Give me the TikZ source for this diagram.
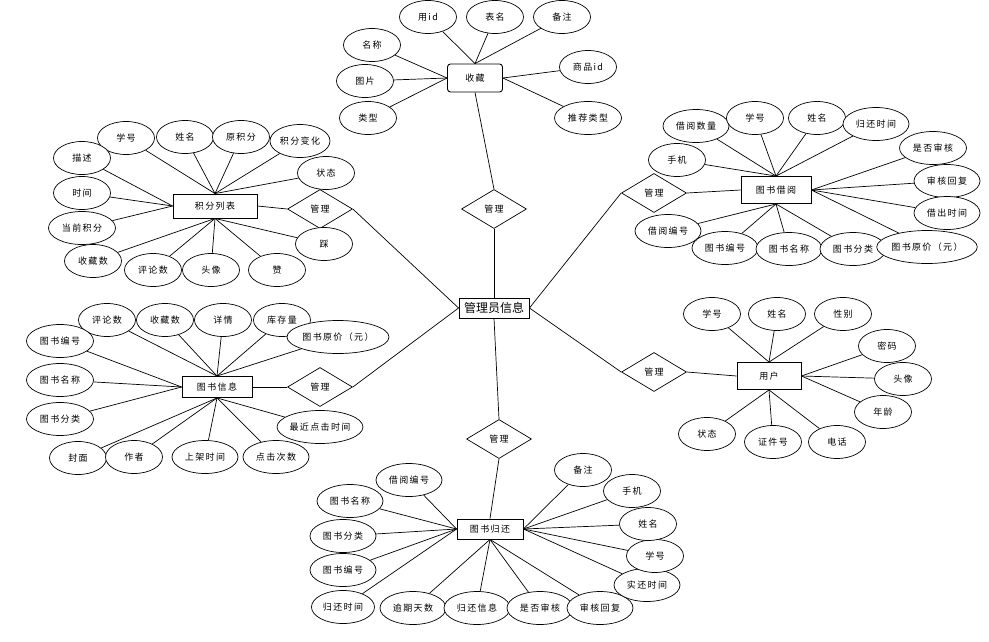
\documentclass[tikz,border=0pt]{standalone}
\usepackage{fontspec}
\setmainfont[LetterSpace=15]{Noto Sans CJK SC}
\newfontfamily\bigf{Noto Sans CJK SC}
\usetikzlibrary{shapes.geometric,backgrounds}
\tikzset{
  conn/.style={draw=black, line width=0.7pt},
  attr/.style={ellipse, draw=black, line width=0.7pt, fill=white, inner sep=0pt,
    minimum width=57pt, minimum height=33pt, font=\fontsize{9}{11}\selectfont},
  wide/.style={minimum width=66pt},
  ent/.style={rectangle, draw=black, line width=0.9pt, fill=white, inner sep=0pt,
    minimum width=70pt, minimum height=24pt, font=\fontsize{9}{11}\selectfont},
  rel/.style={diamond, draw=black, line width=0.7pt, fill=white, inner sep=0pt,
    minimum width=65pt, minimum height=39pt, font=\fontsize{9}{11}\selectfont},
  mainent/.style={rectangle, draw=black, line width=0.9pt, fill=white, inner sep=0pt,
    minimum width=70pt, minimum height=20pt, font=\bigf\fontsize{12}{14}\selectfont}
}
\begin{document}
\begin{tikzpicture}[x=1pt, y=-1pt]
\useasboundingbox (0,0) rectangle (989,641);

% ---------- center
\node[mainent] (admin) at (494,308) {管理员信息};

% ---------- 收藏
\node[ent, rounded corners=3pt, minimum width=55pt, minimum height=28pt] (sc) at (475,78) {收藏};
\node[rel] (d1) at (494,209) {管理};
\node[attr] (sc1) at (428,17) {用id};
\node[attr] (sc2) at (495,17) {表名};
\node[attr] (sc3) at (562,17) {备注};
\node[attr] (sc4) at (372,45) {名称};
\node[attr] (sc5) at (365,81) {图片};
\node[attr] (sc6) at (368,118) {类型};
\node[attr] (sc7) at (588,67) {商品id};
\node[attr, minimum width=67pt] (sc8) at (588,118) {推荐类型};

% ---------- 积分列表
\node[ent, minimum width=84pt, minimum height=24pt] (jf) at (215,206) {积分列表};
\node[rel] (d2) at (320,209) {管理};
\node[attr] (jf1) at (126,138) {学号};
\node[attr] (jf2) at (185,137) {姓名};
\node[attr] (jf3) at (241,137) {原积分};
\node[attr, minimum width=60pt] (jf4) at (300,141) {积分变化};
\node[attr] (jf5) at (326,173) {状态};
\node[attr] (jf6) at (82,158) {描述};
\node[attr] (jf7) at (82,193) {时间};
\node[attr, minimum width=67pt] (jf8) at (82,228) {当前积分};
\node[attr] (jf9) at (93,261) {收藏数};
\node[attr] (jf10) at (153,270) {评论数};
\node[attr] (jf11) at (211,270) {头像};
\node[attr] (jf12) at (277,270) {赞};
\node[attr] (jf13) at (324,244) {踩};

% ---------- 图书借阅
\node[ent, minimum width=70pt, minimum height=27pt] (jy) at (776,190) {图书借阅};
\node[rel] (d3) at (654,193) {管理};
\node[attr, wide] (jy1) at (696,126) {借阅数量};
\node[attr] (jy2) at (755,118) {学号};
\node[attr] (jy3) at (817,118) {姓名};
\node[attr, wide] (jy4) at (876,124) {归还时间};
\node[attr] (jy5) at (677,160) {手机};
\node[attr, minimum width=67pt] (jy6) at (933,148) {是否审核};
\node[attr, wide] (jy7) at (947,181) {审核回复};
\node[attr, wide] (jy8) at (947,213) {借出时间};
\node[attr, wide] (jy9) at (668,231) {借阅编号};
\node[attr, wide] (jy10) at (725,248) {图书编号};
\node[attr, wide] (jy11) at (789,249) {图书名称};
\node[attr, wide] (jy12) at (853,249) {图书分类};
\node[attr, minimum width=95pt] (jy13) at (927,247) {图书原价（元）};

% ---------- 图书信息
\node[ent, minimum width=70pt, minimum height=21pt] (xx) at (217,387) {图书信息};
\node[rel] (d4) at (320,387) {管理};
\node[attr] (xx1) at (107,320) {评论数};
\node[attr] (xx2) at (165,320) {收藏数};
\node[attr] (xx3) at (223,320) {详情};
\node[attr] (xx4) at (282,320) {库存量};
\node[attr, minimum width=102pt] (xx5) at (338,337) {图书原价（元）};
\node[attr, minimum width=67pt] (xx6) at (60,341) {图书编号};
\node[attr, minimum width=67pt] (xx7) at (60,380) {图书名称};
\node[attr, minimum width=67pt] (xx8) at (60,419) {图书分类};
\node[attr] (xx9) at (78,458) {封面};
\node[attr] (xx10) at (134,457) {作者};
\node[attr, wide] (xx11) at (205,457) {上架时间};
\node[attr, wide] (xx12) at (276,457) {点击次数};
\node[attr, minimum width=85pt] (xx13) at (320,427) {最近点击时间};

% ---------- 用户
\node[ent, minimum width=64pt, minimum height=27pt] (yh) at (769,376) {用户};
\node[rel] (d5) at (654,372) {管理};
\node[attr] (yh1) at (712,314) {学号};
\node[attr] (yh2) at (777,314) {姓名};
\node[attr] (yh3) at (843,314) {性别};
\node[attr] (yh4) at (887,346) {密码};
\node[attr] (yh5) at (903,379) {头像};
\node[attr] (yh6) at (883,412) {年龄};
\node[attr] (yh7) at (837,442) {电话};
\node[attr] (yh8) at (773,442) {证件号};
\node[attr] (yh9) at (707,434) {状态};

% ---------- 图书归还
\node[ent, minimum width=66pt, minimum height=20pt] (gh) at (490,529) {图书归还};
\node[rel] (d6) at (499,439) {管理};
\node[attr, wide] (gh1) at (409,480) {借阅编号};
\node[attr, wide] (gh2) at (350,501) {图书名称};
\node[attr, wide] (gh3) at (343,536) {图书分类};
\node[attr, wide] (gh4) at (343,570) {图书编号};
\node[attr, minimum width=63pt] (gh5) at (343,607) {归还时间};
\node[attr, wide] (gh6) at (413,608) {逾期天数};
\node[attr, wide] (gh7) at (477,608) {归还信息};
\node[attr, wide] (gh8) at (540,608) {是否审核};
\node[attr, wide] (gh9) at (600,608) {审核回复};
\node[attr, wide] (gh10) at (647,585) {实还时间};
\node[attr] (gh11) at (655,556) {学号};
\node[attr] (gh12) at (648,524) {姓名};
\node[attr] (gh13) at (632,491) {手机};
\node[attr] (gh14) at (583,470) {备注};

% ---------- connectors (behind nodes)
\begin{scope}[on background layer]
\fill[white] (0,0) rectangle (989,641);
% 收藏
\foreach \a in {sc1,sc2,sc3} \draw[conn] (\a) -- (sc.north);
\foreach \a in {sc4,sc5,sc6} \draw[conn] (\a) -- (sc.west);
\foreach \a in {sc7,sc8} \draw[conn] (\a) -- (sc.east);
\draw[conn] (sc.south) -- (d1.north);
\draw[conn] (d1.south) -- (admin.north);
% 积分列表
\foreach \a in {jf1,jf2,jf3,jf4,jf5} \draw[conn] (\a) -- (jf.north);
\foreach \a in {jf6,jf7,jf8} \draw[conn] (\a) -- (jf.west);
\foreach \a in {jf9,jf10,jf11,jf12,jf13} \draw[conn] (\a) -- (jf.south);
\draw[conn] (jf.east) -- (d2.west);
\draw[conn] (d2.east) -- (admin.west);
% 图书借阅
\foreach \a in {jy1,jy2,jy3,jy4,jy5} \draw[conn] (\a) -- (jy.north);
\foreach \a in {jy6,jy7,jy8,jy13} \draw[conn] (\a) -- (jy.east);
\foreach \a in {jy9,jy10,jy11,jy12} \draw[conn] (\a) -- (jy.south);
\draw[conn] (d3.east) -- (jy.west);
\draw[conn] (admin.east) -- (d3.west);
% 图书信息
\foreach \a in {xx1,xx2,xx3,xx4,xx5} \draw[conn] (\a) -- (xx.north);
\foreach \a in {xx6,xx7,xx8} \draw[conn] (\a) -- (xx.west);
\foreach \a in {xx9,xx10,xx11,xx12,xx13} \draw[conn] (\a) -- (xx.south);
\draw[conn] (xx.east) -- (d4.west);
\draw[conn] (d4.east) -- (admin.west);
% 用户
\foreach \a in {yh1,yh2,yh3} \draw[conn] (\a) -- (yh.north);
\foreach \a in {yh4,yh5,yh6} \draw[conn] (\a) -- (yh.east);
\foreach \a in {yh7,yh8,yh9} \draw[conn] (\a) -- (yh.south);
\draw[conn] (d5.east) -- (yh.west);
\draw[conn] (admin.east) -- (d5.west);
% 图书归还
\draw[conn] (admin.south) -- (d6.north);
\draw[conn] (d6.south) -- (gh.north);
\foreach \a in {gh1,gh2,gh3,gh4,gh5} \draw[conn] (\a) -- (gh.west);
\foreach \a in {gh10,gh11,gh12,gh13,gh14} \draw[conn] (\a) -- (gh.east);
\foreach \a in {gh6,gh7,gh8,gh9} \draw[conn] (\a) -- (gh.south);
\end{scope}
\end{tikzpicture}
\end{document}
